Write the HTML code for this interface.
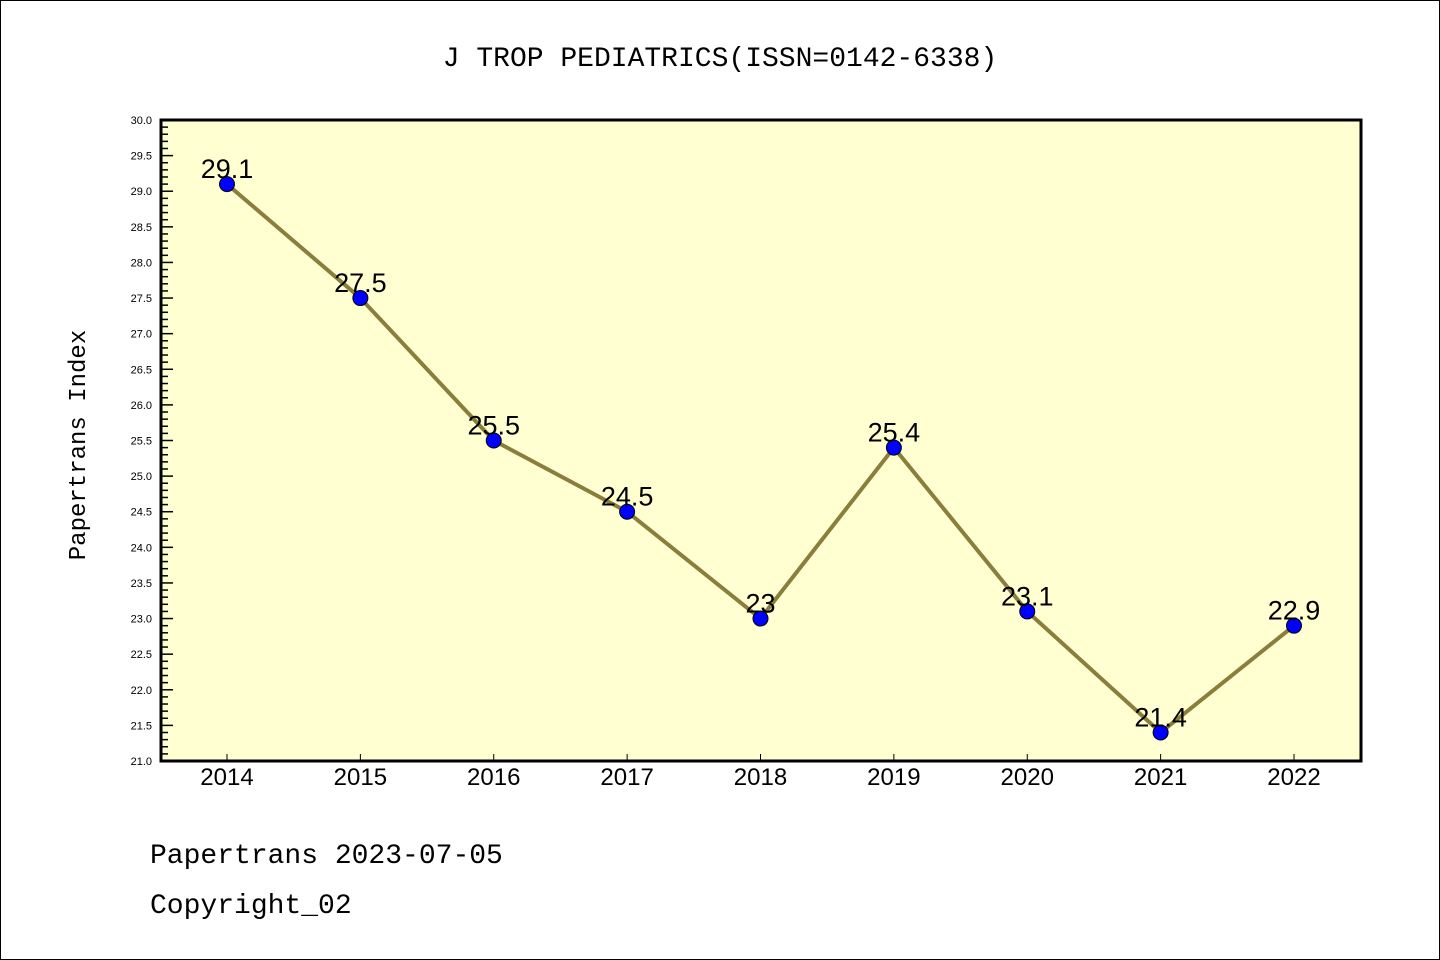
<!DOCTYPE html>
<html><head><meta charset="utf-8"><style>
html,body{margin:0;padding:0;background:#fff;}
svg{display:block;font-family:"Liberation Sans","WenQuanYi Zen Hei",sans-serif;}
</style></head><body>
<svg id="chart" width="1440" height="960" xmlns="http://www.w3.org/2000/svg">
<rect x="0.5" y="0.5" width="1439" height="959" fill="#fff" stroke="#000"/>
<text x="720" y="66" text-anchor="middle" font-size="28" font-family="WenQuanYi Zen Hei, Liberation Mono, monospace">J TROP PEDIATRICS(ISSN=0142-6338)</text>
<rect x="161" y="120" width="1200" height="641" fill="#ffffd2"/>
<g id="axes"></g>
<g id="marks"></g>
<rect x="161" y="120" width="1200" height="641" fill="none" stroke="#000" stroke-width="3"/>
<text transform="translate(85,445) rotate(-90)" text-anchor="middle" font-size="24" font-family="WenQuanYi Zen Hei, Liberation Mono, monospace">Papertrans Index</text>
<text x="150" y="863" font-size="28" font-family="WenQuanYi Zen Hei, Liberation Mono, monospace">Papertrans 2023-07-05</text>
<text x="150" y="913" font-size="28" font-family="WenQuanYi Zen Hei, Liberation Mono, monospace">Copyright_02</text>
</svg>
<script>
const years = ["2014","2015","2016","2017","2018","2019","2020","2021","2022"];
const values = [29.1,27.5,25.5,24.5,23,25.4,23.1,21.4,22.9];
const valueLabels = ["29.1","27.5","25.5","24.5","23","25.4","23.1","21.4","22.9"];
const yTicks = ["21.0","21.5","22.0","22.5","23.0","23.5","24.0","24.5","25.0","25.5","26.0","26.5","27.0","27.5","28.0","28.5","29.0","29.5","30.0"];
const yMin = 21, yMax = 30;
const NS = "http://www.w3.org/2000/svg";
function yS(v){return 761 - (v - yMin) / (yMax - yMin) * 641;}
function xS(i){return 227 + i * (1294 - 227) / (years.length - 1);}
function mk(tag, attrs, parent){const e=document.createElementNS(NS,tag);for(const k in attrs)e.setAttribute(k,attrs[k]);parent.appendChild(e);return e;}
const axes = document.getElementById('axes'), marks = document.getElementById('marks');
for (let k = 0; k <= (yMax - yMin) * 10; k++) {
  const v = yMin + k / 10, y = yS(v), major = k % 5 === 0;
  const t = mk('line', {x1:161, x2:161 + (major ? 12 : 7), y1:y, y2:y, stroke:'#000', 'stroke-width':1.5}, axes);
  
  
}
yTicks.forEach(s => {
  const l = mk('text', {x:152, y:yS(parseFloat(s)) + 4, 'text-anchor':'end', 'font-size':11}, axes);
  l.textContent = s;
  
  
});
years.forEach((yr, i) => {
  const t = mk('line', {x1:xS(i), x2:xS(i), y1:761, y2:754, stroke:'#000', 'stroke-width':1}, axes);
  
  
  const l = mk('text', {x:xS(i), y:785, 'text-anchor':'middle', 'font-size':24}, axes);
  l.textContent = yr;
  
  
});
const line = mk('polyline', {points: values.map((v,i)=>xS(i)+','+yS(v)).join(' '), fill:'none', stroke:'#8b7d3a', 'stroke-width':4}, marks);


values.forEach((v, i) => {
  const c = mk('circle', {cx:xS(i), cy:yS(v), r:7.5, fill:'#0000ff', stroke:'#000', 'stroke-width':1}, marks);
  
  
  const l = mk('text', {x:xS(i), y:yS(v) - 6, 'text-anchor':'middle', 'font-size':27}, marks);
  l.textContent = valueLabels[i];
  
  
});
</script>
</body></html>
